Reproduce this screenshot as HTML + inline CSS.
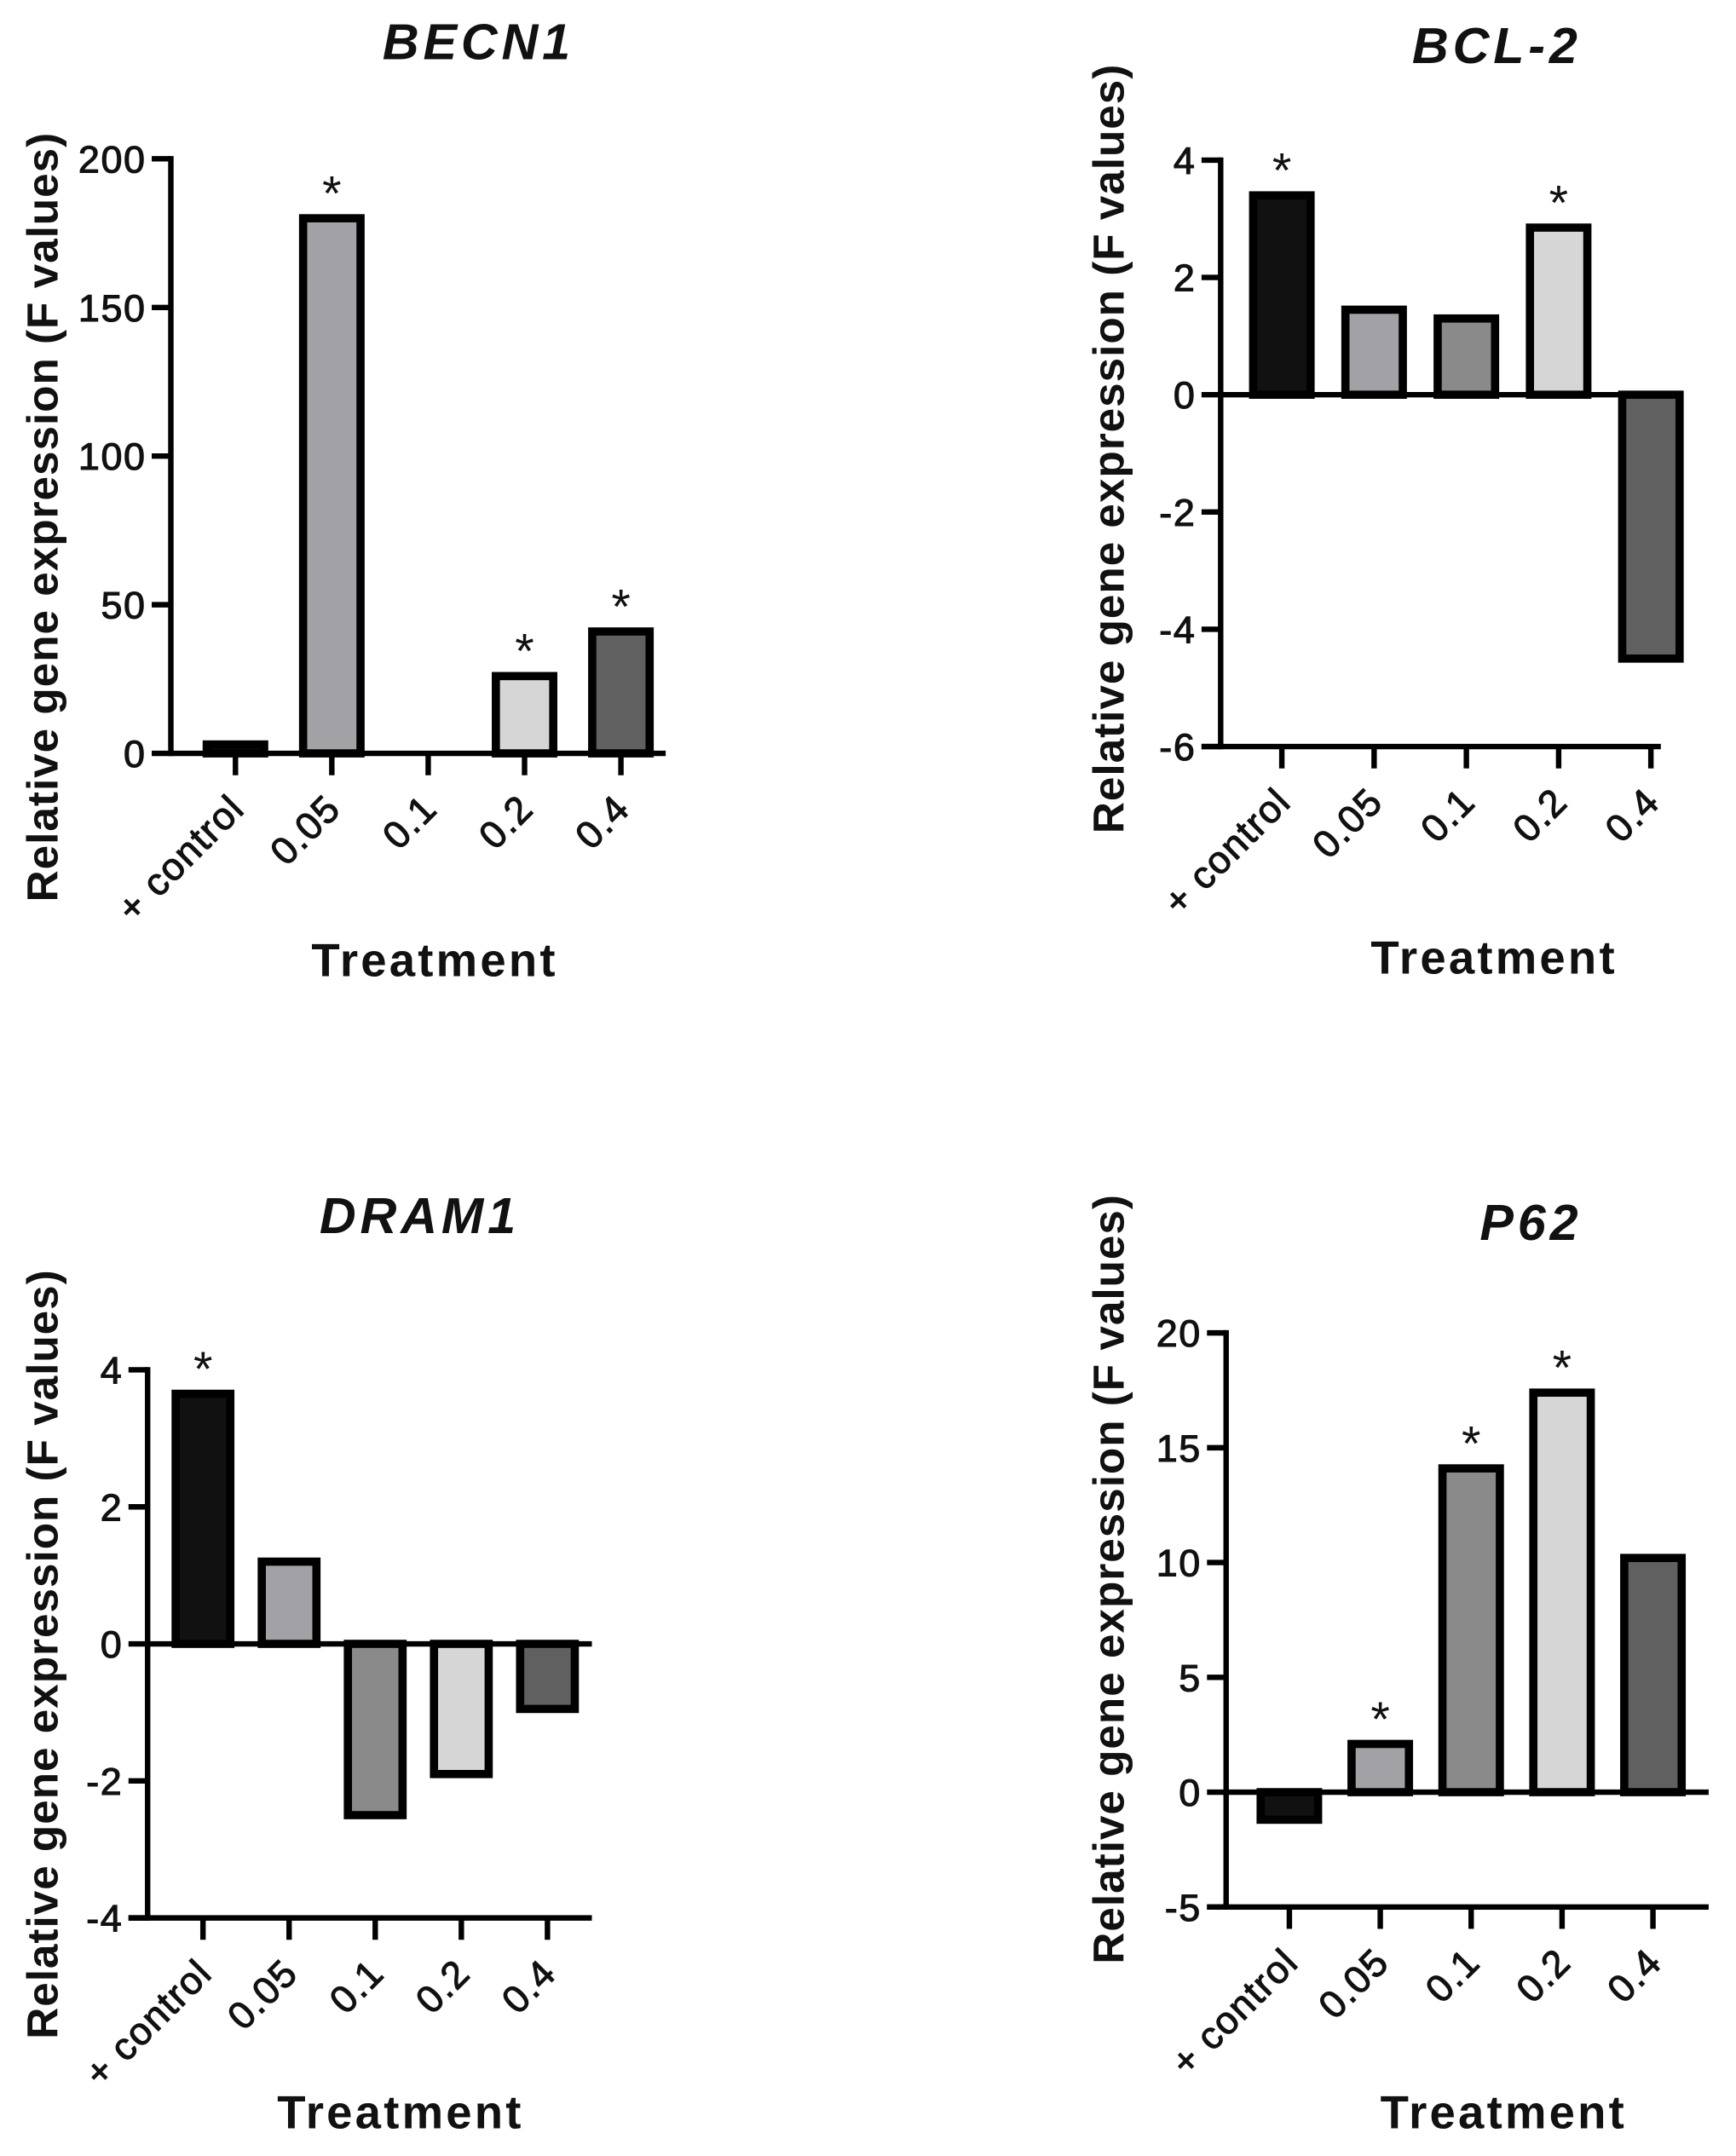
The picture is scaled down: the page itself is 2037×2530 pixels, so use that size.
<!DOCTYPE html>
<html><head><meta charset="utf-8"><style>
html,body{margin:0;padding:0;background:#fff}
svg{display:block}
text{font-family:"Liberation Sans",Arial,sans-serif;fill:#111}
.tk{stroke:#111;stroke-width:0.7px}
</style></head><body>
<svg id="fig" width="2037" height="2530" viewBox="0 0 1270 1577" xmlns="http://www.w3.org/2000/svg"></svg>
<script>
const categories = ["+ control","0.05","0.1","0.2","0.4"];
const fills = ["#111111","#a2a2a6","#8a8a8a","#d6d6d6","#606060"];
const becn1Values = [3, 180, 0, 26, 41];
const becn1Stars = [false, true, false, true, true];
const becn1Ticks = [0, 50, 100, 150, 200];
const bcl2Values = [3.4, 1.45, 1.3, 2.85, -4.5];
const bcl2Stars = [true, false, false, true, false];
const bcl2Ticks = [-6, -4, -2, 0, 2, 4];
const dram1Values = [3.65, 1.2, -2.5, -1.9, -0.95];
const dram1Stars = [true, false, false, false, false];
const dram1Ticks = [-4, -2, 0, 2, 4];
const p62Values = [-1.2, 2.1, 14.1, 17.4, 10.2];
const p62Stars = [false, true, true, true, false];
const p62Ticks = [-5, 0, 5, 10, 15, 20];

const NS = "http://www.w3.org/2000/svg";
const svg = document.getElementById("fig");
function mk(tag, attrs, parent, txt){
  const e = document.createElementNS(NS, tag);
  for (const k in attrs) e.setAttribute(k, attrs[k]);
  if (txt !== undefined) e.textContent = txt;
  (parent || svg).appendChild(e);
  return e;
}
function chart(o){
  const g = mk("g", {});
  
  
  const ymin = o.ticks[0], ymax = o.ticks[o.ticks.length-1];
  const y = v => o.yBot - (v - ymin) / (ymax - ymin) * (o.yBot - o.yTop);
  const x = i => o.x0 + o.step * (i + 0.5);
  const y0 = y(0);
  o.values.forEach((v, i) => {
    if (v !== 0) {
      const h = Math.max(Math.abs(y(v) - y0), 3);
      const r = mk("rect", {x: x(i) - o.bw/2, y: v >= 0 ? y0 - h : y0, width: o.bw, height: h, fill: fills[i], stroke: "#000", "stroke-width": 6}, g);
      
      
    }
    if (o.stars[i]) {
      const s = mk("text", {x: x(i), y: Math.min(y(v), y0) - 6, "text-anchor": "middle", "font-size": 36}, g, "*");
      
      
    }
  });
  const ya = mk("line", {x1: o.axX, x2: o.axX, y1: o.yTop - 2, y2: o.yBot + 2, stroke: "#000", "stroke-width": 4}, g);
  
  
  const za = mk("line", {x1: o.axX, x2: o.xEnd, y1: y0, y2: y0, stroke: "#000", "stroke-width": 4}, g);
  
  
  if (ymin < 0) {
    const xa = mk("line", {x1: o.axX - 14, x2: o.xEnd, y1: o.yBot, y2: o.yBot, stroke: "#000", "stroke-width": 4}, g);
    
    
  }
  o.ticks.forEach(t => {
    mk("line", {x1: o.axX - 14, x2: o.axX, y1: y(t), y2: y(t), stroke: "#000", "stroke-width": 4}, g);
    const tl = mk("text", {x: o.axX - 18, y: y(t) + 10, "text-anchor": "end", "font-size": 28, class: "tk", "letter-spacing": 1}, g, String(t));
    
    
  });
  categories.forEach((c, i) => {
    mk("line", {x1: x(i), x2: x(i), y1: o.yBot, y2: o.yBot + 16, stroke: "#000", "stroke-width": 4}, g);
    const tx = x(i) + 8, ty = o.yBot + 42;
    const tl = mk("text", {x: tx, y: ty, "text-anchor": "end", "font-size": 28, class: "tk", "letter-spacing": 1, transform: `rotate(-45 ${tx} ${ty})`}, g, c);
    
    
  });
  const ti = mk("text", {x: o.titleX, y: o.titleY, "text-anchor": "middle", "font-size": 37, "font-weight": "bold", "font-style": "italic", "letter-spacing": 3}, g, o.title);
  
  
  const yl = mk("text", {x: 0, y: 0, "text-anchor": "middle", "font-size": 32, "font-weight": "bold", "letter-spacing": 0.6, transform: `translate(${o.ylX} ${o.ylY}) rotate(-90)`}, g, "Relative gene expression (F values)");
  
  
  const xl = mk("text", {x: o.xlX, y: o.xlY, "text-anchor": "middle", "font-size": 34, "font-weight": "bold", "letter-spacing": 2}, g, "Treatment");
  
  
}
chart({name:"becn1", title:"BECN1", values:becn1Values, stars:becn1Stars, ticks:becn1Ticks,
  axX:125, x0:137, step:70.5, bw:42, yTop:116, yBot:551, xEnd:487,
  titleX:350, titleY:43, ylX:42, ylY:378, xlX:318, xlY:714});
chart({name:"bcl2", title:"BCL-2", values:bcl2Values, stars:bcl2Stars, ticks:bcl2Ticks,
  axX:893, x0:904, step:67.5, bw:42, yTop:117, yBot:546, xEnd:1215,
  titleX:1095, titleY:46, ylX:822, ylY:328, xlX:1093, xlY:712});
chart({name:"dram1", title:"DRAM1", values:dram1Values, stars:dram1Stars, ticks:dram1Ticks,
  axX:108, x0:117, step:63, bw:40, yTop:1002, yBot:1403, xEnd:433,
  titleX:307, titleY:902, ylX:42, ylY:1210, xlX:293, xlY:1557});
chart({name:"p62", title:"P62", values:p62Values, stars:p62Stars, ticks:p62Ticks,
  axX:897, x0:910, step:66.5, bw:42, yTop:975, yBot:1395, xEnd:1250,
  titleX:1120, titleY:907, ylX:822, ylY:1155, xlX:1100, xlY:1557});
</script>
</body></html>
